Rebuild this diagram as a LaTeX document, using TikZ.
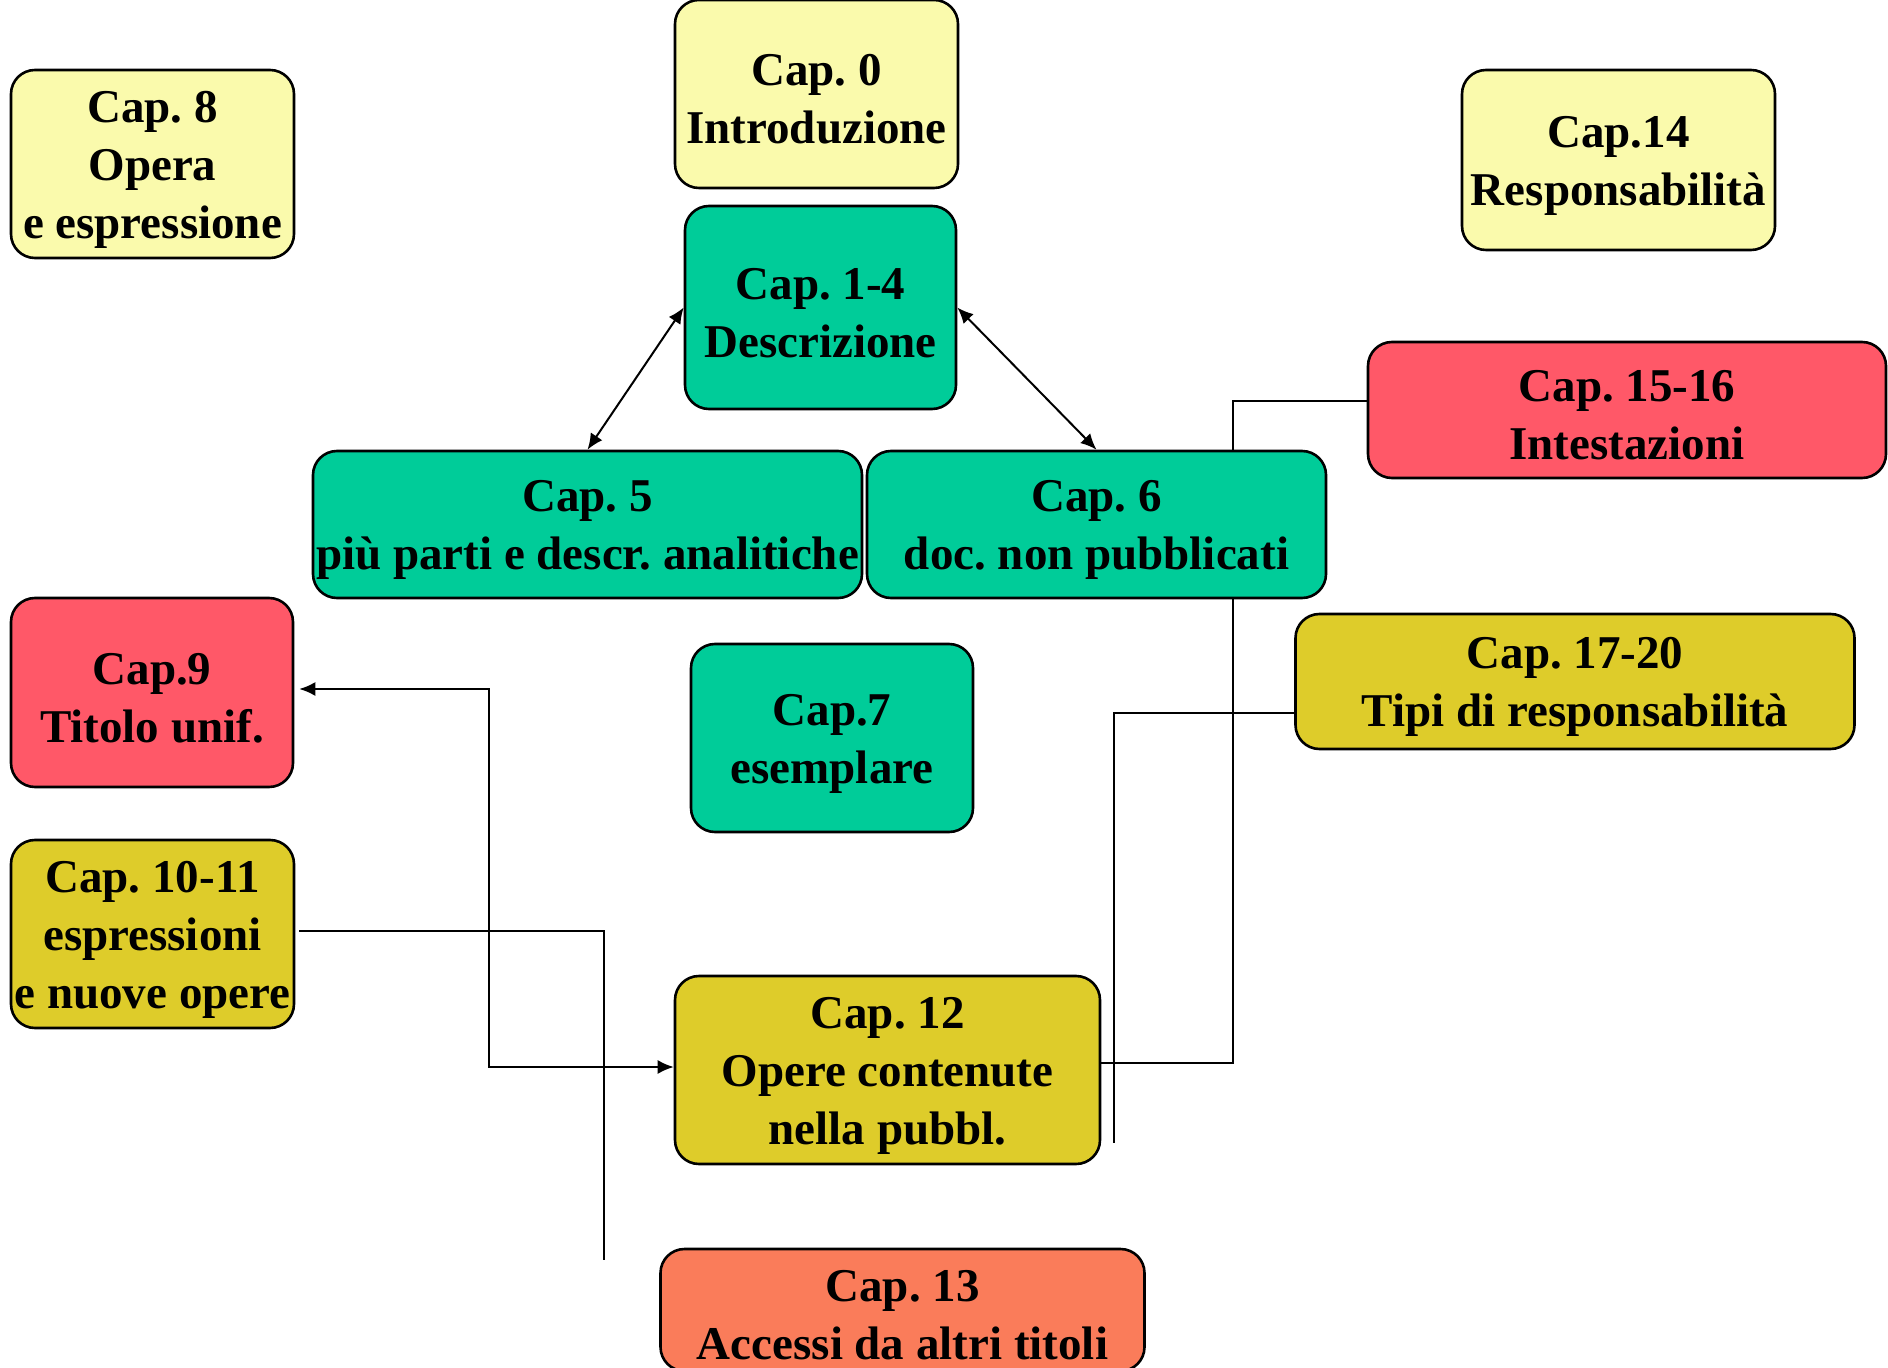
\documentclass[tikz,border=0pt]{standalone}
\usepackage{fontspec}
\setmainfont{Liberation Serif}
\usetikzlibrary{arrows.meta,backgrounds}

\definecolor{paleyellow}{RGB}{250,250,172}
\definecolor{seagreen}{RGB}{0,204,153}
\definecolor{rosered}{RGB}{255,88,104}
\definecolor{ochre}{RGB}{222,204,42}
\definecolor{salmon}{RGB}{250,124,90}

\tikzset{
  chapter/.style={draw=black, line width=1.3pt, rounded corners=12pt, inner sep=0pt},
  % box caption, set a little below the box centre
  caption/.style={label={[align=center, inner sep=0pt, yshift=-2.8pt,
    font=\bfseries\fontsize{23.5pt}{29pt}\selectfont\frenchspacing]center:#1}},
  link/.style={draw=black, line width=1pt},
  bothtips/.style={{Latex[length=8pt,width=7pt]}-{Latex[length=8pt,width=7pt]}}
}

\begin{document}
\begin{tikzpicture}[x=0.5pt,y=-0.5pt]
\useasboundingbox (0,0) rectangle (1888,1368);

% chapter boxes
\node[chapter, fill=paleyellow, minimum width=141.5pt, minimum height=94pt,
  caption={Cap. 0\\Introduzione}] (c0) at (816.5,94) {};
\node[chapter, fill=paleyellow, minimum width=141.5pt, minimum height=94pt,
  caption={Cap. 8\\Opera\\e espressione}] (c8) at (152.5,164) {};
\node[chapter, fill=paleyellow, minimum width=156.5pt, minimum height=90pt,
  caption={Cap.14\\Responsabilit\`a}] (c14) at (1618.5,160) {};
\node[chapter, fill=seagreen, minimum width=135.5pt, minimum height=101.5pt,
  caption={Cap. 1-4\\Descrizione}] (c1to4) at (820.5,307.5) {};
\node[chapter, fill=seagreen, minimum width=274.5pt, minimum height=73.5pt,
  caption={Cap. 5\\pi\`u parti e descr. analitiche}] (c5) at (587.5,524.5) {};
\node[chapter, fill=seagreen, minimum width=229.5pt, minimum height=73.5pt,
  caption={Cap. 6\\doc. non pubblicati}] (c6) at (1096.5,524.5) {};
\node[chapter, fill=rosered, minimum width=259pt, minimum height=68pt,
  caption={Cap. 15-16\\Intestazioni}] (c1516) at (1627,410) {};
\node[chapter, fill=ochre, minimum width=279.5pt, minimum height=67.5pt,
  caption={Cap. 17-20\\Tipi di responsabilit\`a}] (c1720) at (1575,681.5) {};
\node[chapter, fill=rosered, minimum width=141pt, minimum height=94.5pt,
  caption={Cap.9\\Titolo unif.}] (c9) at (152,692.5) {};
\node[chapter, fill=seagreen, minimum width=141pt, minimum height=94pt,
  caption={Cap.7\\esemplare}] (c7) at (832,738) {};
\node[chapter, fill=ochre, minimum width=141.5pt, minimum height=94pt,
  caption={Cap. 10-11\\espressioni\\e nuove opere}] (c1011) at (152.5,934) {};
\node[chapter, fill=ochre, minimum width=212.5pt, minimum height=94pt,
  caption={Cap. 12\\Opere contenute\\nella pubbl.}] (c12) at (887.5,1070) {};
\node[chapter, fill=salmon, minimum width=242pt, minimum height=61pt,
  caption={Cap. 13\\Accessi da altri titoli}] (c13) at (902.5,1310) {};

% junction points and free line ends
\coordinate (j9) at (489,0);
\coordinate (j12) at (1233,0);
\coordinate (e1011) at (604,1260);
\coordinate (e1720) at (1114,1143);

% description links
\draw[link, bothtips] (c1to4.west) -- (c5.north);
\draw[link, bothtips] (c1to4.east) -- (c6.north);

% uniform title and contained works
\draw[link, bothtips, shorten <=2.5pt]
  ([yshift=1.75pt]c9.east) -| ([yshift=1.5pt]j9 |- c12.west) -- ([yshift=1.5pt]c12.west);
\draw[link, shorten <=2pt] ([yshift=1.5pt]c1011.east) -| (e1011);
\draw[link] ([yshift=-15.5pt]c1720.west) -| (e1720);

% headings line runs behind Cap. 6
\begin{pgfonlayer}{background}
\draw[link] ([yshift=3.5pt]c12.east) -| ([yshift=4.5pt]j12 |- c1516.west)
  -- ([yshift=4.5pt]c1516.west);
\end{pgfonlayer}
\end{tikzpicture}
\end{document}
